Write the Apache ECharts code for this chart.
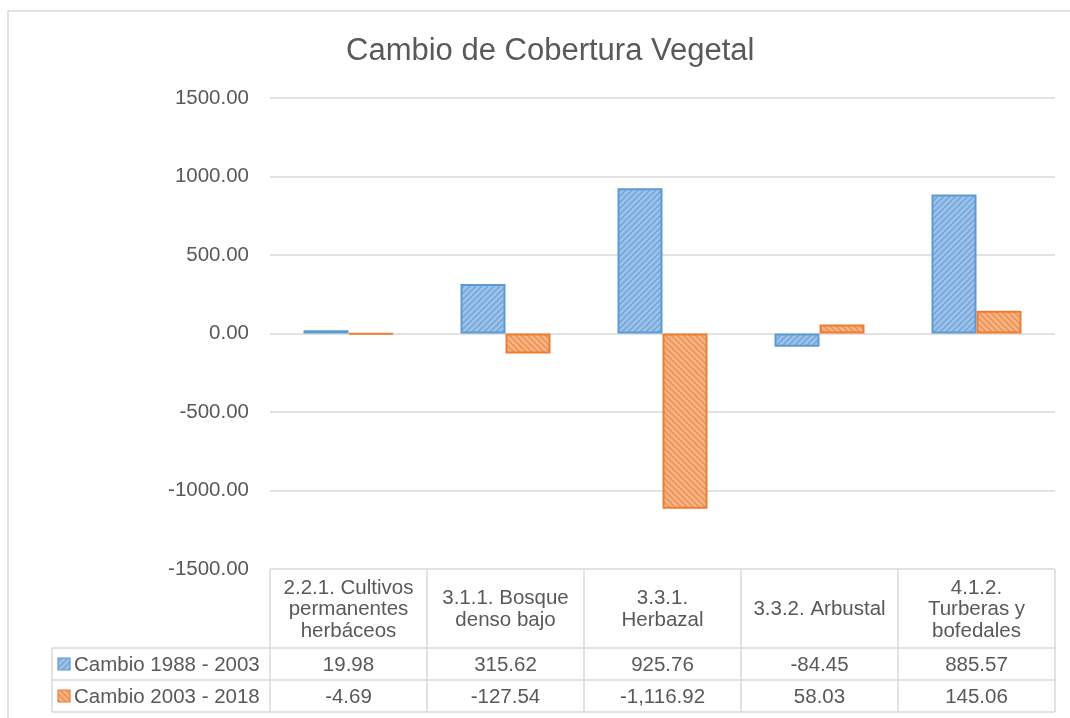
<!DOCTYPE html>
<html>
<head>
<meta charset="utf-8">
<script src="https://cdn.jsdelivr.net/npm/echarts@6/dist/echarts.min.js"></script>
<style>
html,body{margin:0;padding:0;background:#fff;}
#chart{width:1070px;height:718px;}
</style>
</head>
<body>
<div id="chart"></div>
<script>
// ---- data ----
const categories = [
  "2.2.1. Cultivos\npermanentes\nherbáceos",
  "3.1.1. Bosque\ndenso bajo",
  "3.3.1.\nHerbazal",
  "3.3.2. Arbustal",
  "4.1.2.\nTurberas y\nbofedales"
];
const seriesNames = ["Cambio 1988 - 2003", "Cambio 2003 - 2018"];
const values1988 = [19.98, 315.62, 925.76, -84.45, 885.57];
const values2003 = [-4.69, -127.54, -1116.92, 58.03, 145.06];
const yTicks = { min: -1500, max: 1500, interval: 500 };

// ---- styles ----
const FONT = "'Liberation Sans', Arial, sans-serif";
const TXT = '#595959';
const LINE = '#d9d9d9';
const FS = 20.5;

function makePattern(bg, stripe, dir) {
  const c = document.createElement('canvas');
  const s = 6;
  c.width = s; c.height = s;
  const g = c.getContext('2d');
  g.fillStyle = bg; g.fillRect(0, 0, s, s);
  g.strokeStyle = stripe; g.lineWidth = 1.6;
  g.beginPath();
  if (dir > 0) { // "/"
    g.moveTo(-1, s + 1); g.lineTo(s + 1, -1);
    g.moveTo(-1, 1); g.lineTo(1, -1);
    g.moveTo(s - 1, s + 1); g.lineTo(s + 1, s - 1);
  } else { // "\"
    g.moveTo(-1, -1); g.lineTo(s + 1, s + 1);
    g.moveTo(s - 1, -1); g.lineTo(s + 1, 1);
    g.moveTo(-1, s - 1); g.lineTo(1, s + 1);
  }
  g.stroke();
  return c;
}
const patBlue = makePattern('#9fc3e8', '#72a8dd', 1);
const patOrange = makePattern('#f5b48a', '#ef934f', -1);
const colors = [
  { fill: { image: patBlue, repeat: 'repeat' }, border: '#5b9bd5' },
  { fill: { image: patOrange, repeat: 'repeat' }, border: '#ed7d31' }
];

const chart = echarts.init(document.getElementById('chart'), null, { renderer: 'canvas' });

const gridLeft = 270, gridRight = 15, gridTop = 98, gridBottom = 149;

function fmt(v) {
  return v.toLocaleString('en-US', { minimumFractionDigits: 2, maximumFractionDigits: 2 });
}

chart.setOption({
  animation: false,
  backgroundColor: '#fff',
  title: {
    text: 'Cambio de Cobertura Vegetal',
    left: 341, top: 31,
    textStyle: { fontFamily: FONT, fontSize: 31, fontWeight: 'normal', color: TXT }
  },
  grid: { left: gridLeft, right: gridRight, top: gridTop, bottom: gridBottom, containLabel: false },
  xAxis: {
    type: 'category', data: categories,
    axisLine: { show: false }, axisTick: { show: false }, axisLabel: { show: false }
  },
  yAxis: {
    type: 'value', min: yTicks.min, max: yTicks.max, interval: yTicks.interval,
    axisLine: { show: false }, axisTick: { show: false },
    axisLabel: {
      formatter: v => v.toFixed(2), fontFamily: FONT, fontSize: FS, color: TXT, margin: 21
    },
    splitLine: { lineStyle: { color: LINE, width: 1.5 } }
  },
  series: [
    {
      name: seriesNames[0], type: 'bar', data: values1988, barWidth: 45, barGap: '0%',
      itemStyle: { color: colors[0].fill, borderColor: colors[0].border, borderWidth: 2 }
    },
    {
      name: seriesNames[1], type: 'bar', data: values2003, barWidth: 45, barGap: '0%',
      itemStyle: { color: colors[1].fill, borderColor: colors[1].border, borderWidth: 2 }
    }
  ]
});

// ---- data table below the plot ----
function buildTable() {
  const gx0 = gridLeft, gx1 = 1070 - gridRight;
  const yTop = chart.convertToPixel({ yAxisIndex: 0 }, yTicks.min);
  const catW = (gx1 - gx0) / categories.length;
  const headH = 79, rowH = 32;
  const r1 = yTop + headH, r2 = r1 + rowH, r3 = r2 + rowH;
  const legX = 52;
  const els = [];
  const ln = (x1, y1, x2, y2) => els.push({
    type: 'line', shape: { x1, y1, x2, y2 }, style: { stroke: LINE, lineWidth: 1.5 }, silent: true
  });
  // outer chart border (top & left visible)
  els.push({ type: 'rect', shape: { x: 8, y: 11, width: 1100, height: 760 },
    style: { fill: null, stroke: LINE, lineWidth: 1.5 }, silent: true, z: -1 });
  // verticals
  categories.forEach((c, i) => {
    const x = gx0 + i * catW;
    ln(x, yTop, x, r3);
  });
  ln(gx1, yTop, gx1, r3);
  ln(legX, r1, legX, r3);
  ln(legX, r1, gx1, r1);
  ln(legX, r2, gx1, r2);
  ln(legX, r3, gx1, r3);
  // header texts
  categories.forEach((c, i) => {
    const cx = chart.convertToPixel({ xAxisIndex: 0 }, c);
    els.push({ type: 'text', x: cx, y: yTop + headH / 2 + 1, silent: true,
      style: { text: c, fontFamily: FONT, fontSize: FS, fill: TXT, align: 'center',
        verticalAlign: 'middle', lineHeight: 21.5 } });
  });
  // value rows
  [values1988, values2003].forEach((vals, k) => {
    const cy = (k === 0 ? r1 : r2) + rowH / 2 + 1;
    vals.forEach((v, i) => {
      const cx = chart.convertToPixel({ xAxisIndex: 0 }, categories[i]);
      els.push({ type: 'text', x: cx, y: cy, silent: true,
        style: { text: fmt(v), fontFamily: FONT, fontSize: FS, fill: TXT, align: 'center', verticalAlign: 'middle' } });
    });
    els.push({ type: 'rect', shape: { x: legX + 6, y: cy - 7, width: 12, height: 12 },
      style: { fill: colors[k].fill, stroke: colors[k].border, lineWidth: 1.2 }, silent: true });
    els.push({ type: 'text', x: legX + 22, y: cy, silent: true,
      style: { text: seriesNames[k], fontFamily: FONT, fontSize: FS, fill: TXT, align: 'left', verticalAlign: 'middle' } });
  });
  chart.setOption({ graphic: { elements: els } });
}
buildTable();
</script>
</body>
</html>
